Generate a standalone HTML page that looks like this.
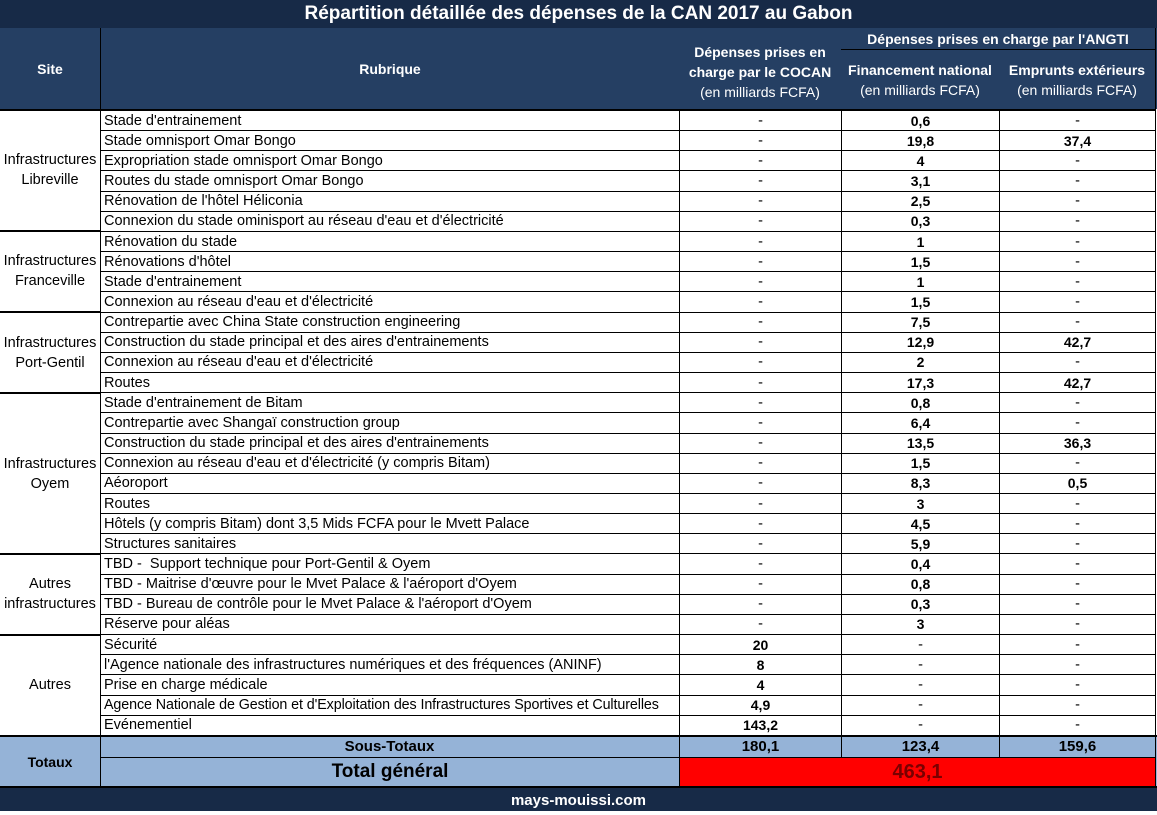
<!DOCTYPE html>
<html><head><meta charset="utf-8"><style>
*{margin:0;padding:0;box-sizing:border-box}
body{width:1157px;height:815px;background:#fff;font-family:"Liberation Sans",Arial,sans-serif;color:#000;position:relative;overflow:hidden}
.a{position:absolute}
.title{left:0;top:0;width:1157px;height:28px;background:#172a47;color:#fff;font-weight:bold;font-size:19px;text-align:center;line-height:28px}
.hd{background:#253f63;color:#fff;font-size:14px;text-align:center;display:flex;flex-direction:column;justify-content:center;border-right:1px solid #000;line-height:20px;white-space:nowrap}
.hd b{font-weight:bold}
#rows{left:100px;top:109px;width:1056px;height:626px;display:flex;flex-direction:column;border-top:2px solid #000}
.r{flex:1;display:flex;border-bottom:1px solid #000;font-size:14.5px}
.r div{border-left:1px solid #000;display:flex;align-items:center;white-space:nowrap}
.c1{width:579px;padding-left:3px}
.c2{width:162px;justify-content:center}
.c3{width:158px;justify-content:center}
.c4{width:157px;justify-content:center;border-right:1px solid #000}
.b{font-weight:bold;font-size:14px}
#site{left:0;top:109px;width:100px;height:626px;display:flex;flex-direction:column;border-top:2px solid #000}
.g{display:flex;align-items:center;justify-content:center;text-align:center;font-size:14.5px;line-height:20px;border-bottom:2px solid #000}
.tot{background:#95b3d7}
</style></head><body>
<div class="a title">Répartition détaillée des dépenses de la CAN 2017 au Gabon</div>
<div class="a" style="left:0;top:28px;width:1157px;height:81px;background:#253f63"></div>
<div class="a hd" style="left:0;top:28px;width:101px;height:81px"><b>Site</b></div>
<div class="a hd" style="left:101px;top:28px;width:579px;height:81px"><b>Rubrique</b></div>
<div class="a hd" style="left:679px;top:28px;width:163px;height:81px;padding-top:6px"><b>Dépenses prises en</b><b>charge par le COCAN</b><span>(en milliards FCFA)</span></div>
<div class="a hd" style="left:841px;top:28px;width:315px;height:22px;border-bottom:1px solid #000"><b>Dépenses prises en charge par l'ANGTI</b></div>
<div class="a hd" style="left:841px;top:50px;width:159px;height:59px"><b>Financement national</b><span>(en milliards FCFA)</span></div>
<div class="a hd" style="left:999px;top:50px;width:157px;height:59px"><b>Emprunts extérieurs</b><span>(en milliards FCFA)</span></div>
<div class="a" id="site">
<div class="g" style="flex:6">Infrastructures<br>Libreville</div>
<div class="g" style="flex:4">Infrastructures<br>Franceville</div>
<div class="g" style="flex:4">Infrastructures<br>Port-Gentil</div>
<div class="g" style="flex:8">Infrastructures<br>Oyem</div>
<div class="g" style="flex:4">Autres<br>infrastructures</div>
<div class="g" style="flex:5;border-bottom:none">Autres</div>
</div>
<div class="a" id="rows">
<div class="r"><div class="c1">Stade d'entrainement</div><div class="c2">-</div><div class="c3 b">0,6</div><div class="c4">-</div></div>
<div class="r"><div class="c1">Stade omnisport Omar Bongo</div><div class="c2">-</div><div class="c3 b">19,8</div><div class="c4 b">37,4</div></div>
<div class="r"><div class="c1">Expropriation stade omnisport Omar Bongo</div><div class="c2">-</div><div class="c3 b">4</div><div class="c4">-</div></div>
<div class="r"><div class="c1">Routes du stade omnisport Omar Bongo</div><div class="c2">-</div><div class="c3 b">3,1</div><div class="c4">-</div></div>
<div class="r"><div class="c1">Rénovation de l'hôtel Héliconia</div><div class="c2">-</div><div class="c3 b">2,5</div><div class="c4">-</div></div>
<div class="r"><div class="c1">Connexion du stade ominisport au réseau d'eau et d'électricité</div><div class="c2">-</div><div class="c3 b">0,3</div><div class="c4">-</div></div>
<div class="r"><div class="c1">Rénovation du stade</div><div class="c2">-</div><div class="c3 b">1</div><div class="c4">-</div></div>
<div class="r"><div class="c1">Rénovations d'hôtel</div><div class="c2">-</div><div class="c3 b">1,5</div><div class="c4">-</div></div>
<div class="r"><div class="c1">Stade d'entrainement</div><div class="c2">-</div><div class="c3 b">1</div><div class="c4">-</div></div>
<div class="r"><div class="c1">Connexion au réseau d'eau et d'électricité</div><div class="c2">-</div><div class="c3 b">1,5</div><div class="c4">-</div></div>
<div class="r"><div class="c1">Contrepartie avec China State construction engineering</div><div class="c2">-</div><div class="c3 b">7,5</div><div class="c4">-</div></div>
<div class="r"><div class="c1">Construction du stade principal et des aires d'entrainements</div><div class="c2">-</div><div class="c3 b">12,9</div><div class="c4 b">42,7</div></div>
<div class="r"><div class="c1">Connexion au réseau d'eau et d'électricité</div><div class="c2">-</div><div class="c3 b">2</div><div class="c4">-</div></div>
<div class="r"><div class="c1">Routes</div><div class="c2">-</div><div class="c3 b">17,3</div><div class="c4 b">42,7</div></div>
<div class="r"><div class="c1">Stade d'entrainement de Bitam</div><div class="c2">-</div><div class="c3 b">0,8</div><div class="c4">-</div></div>
<div class="r"><div class="c1">Contrepartie avec Shangaï construction group</div><div class="c2">-</div><div class="c3 b">6,4</div><div class="c4">-</div></div>
<div class="r"><div class="c1">Construction du stade principal et des aires d'entrainements</div><div class="c2">-</div><div class="c3 b">13,5</div><div class="c4 b">36,3</div></div>
<div class="r"><div class="c1">Connexion au réseau d'eau et d'électricité (y compris Bitam)</div><div class="c2">-</div><div class="c3 b">1,5</div><div class="c4">-</div></div>
<div class="r"><div class="c1">Aéoroport</div><div class="c2">-</div><div class="c3 b">8,3</div><div class="c4 b">0,5</div></div>
<div class="r"><div class="c1">Routes</div><div class="c2">-</div><div class="c3 b">3</div><div class="c4">-</div></div>
<div class="r"><div class="c1">Hôtels (y compris Bitam) dont 3,5 Mids FCFA pour le Mvett Palace</div><div class="c2">-</div><div class="c3 b">4,5</div><div class="c4">-</div></div>
<div class="r"><div class="c1">Structures sanitaires</div><div class="c2">-</div><div class="c3 b">5,9</div><div class="c4">-</div></div>
<div class="r"><div class="c1">TBD -&nbsp; Support technique pour Port-Gentil &amp; Oyem</div><div class="c2">-</div><div class="c3 b">0,4</div><div class="c4">-</div></div>
<div class="r"><div class="c1">TBD - Maitrise d'œuvre pour le Mvet Palace &amp; l'aéroport d'Oyem</div><div class="c2">-</div><div class="c3 b">0,8</div><div class="c4">-</div></div>
<div class="r"><div class="c1">TBD - Bureau de contrôle pour le Mvet Palace &amp; l'aéroport d'Oyem</div><div class="c2">-</div><div class="c3 b">0,3</div><div class="c4">-</div></div>
<div class="r"><div class="c1">Réserve pour aléas</div><div class="c2">-</div><div class="c3 b">3</div><div class="c4">-</div></div>
<div class="r"><div class="c1">Sécurité</div><div class="c2 b">20</div><div class="c3">-</div><div class="c4">-</div></div>
<div class="r"><div class="c1">l'Agence nationale des infrastructures numériques et des fréquences (ANINF)</div><div class="c2 b">8</div><div class="c3">-</div><div class="c4">-</div></div>
<div class="r"><div class="c1">Prise en charge médicale</div><div class="c2 b">4</div><div class="c3">-</div><div class="c4">-</div></div>
<div class="r"><div class="c1" style="font-size:14.3px;letter-spacing:-0.1px">Agence Nationale de Gestion et d'Exploitation des Infrastructures Sportives et Culturelles</div><div class="c2 b">4,9</div><div class="c3">-</div><div class="c4">-</div></div>
<div class="r" style="border-bottom:none"><div class="c1">Evénementiel</div><div class="c2 b">143,2</div><div class="c3">-</div><div class="c4">-</div></div>
</div>
<div class="a tot" style="left:0;top:735px;width:1157px;height:51px;border-top:2px solid #000"></div>
<div class="a" style="left:0;top:735px;width:101px;height:51px;border-top:2px solid #000;border-right:1px solid #000;display:flex;align-items:center;justify-content:center;font-weight:bold;font-size:14px">Totaux</div>
<div class="a" style="left:100px;top:737px;width:1056px;height:21px;border-bottom:1px solid #000;display:flex;font-weight:bold;font-size:15px">
<div style="width:580px;text-align:center;line-height:20px;border-right:1px solid #000">Sous-Totaux</div>
<div style="width:162px;text-align:center;line-height:20px;border-right:1px solid #000">180,1</div>
<div style="width:158px;text-align:center;line-height:20px;border-right:1px solid #000">123,4</div>
<div style="width:156px;text-align:center;line-height:20px;border-right:1px solid #000">159,6</div>
</div>
<div class="a" style="left:101px;top:758px;width:579px;height:28px;text-align:center;line-height:28px;font-weight:bold;font-size:19px;border-right:1px solid #000">Total général</div>
<div class="a" style="left:680px;top:758px;width:476px;height:28px;background:#ff0000;color:#7a0000;text-align:center;line-height:28px;font-weight:bold;font-size:20px;border-right:1px solid #000">463,1</div>
<div class="a" style="left:0;top:786px;width:1157px;height:25px;background:#172a47;color:#fff;font-weight:bold;font-size:15px;text-align:center;line-height:25px;border-top:2px solid #000">mays-mouissi.com</div>
</body></html>
